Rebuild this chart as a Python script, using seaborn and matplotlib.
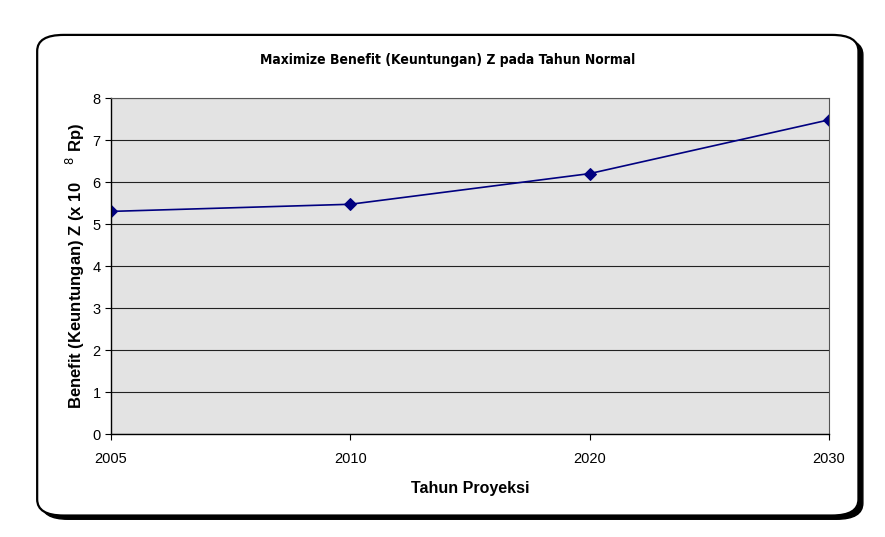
import numpy as np
import pandas as pd
import matplotlib
matplotlib.use("Agg")
import matplotlib.pyplot as plt
import seaborn as sns
from matplotlib.patches import FancyBboxPatch
from matplotlib import font_manager

# data
tahun = ["2005", "2010", "2020", "2030"]
benefit = [5.30, 5.47, 6.20, 7.48]
y_ticks = list(range(0, 9))

sns.set_theme(style="white")
plt.rcParams["font.family"] = ["Liberation Sans", "DejaVu Sans"]
plt.rcParams["text.color"] = "black"
plt.rcParams["axes.labelcolor"] = "black"

# cari font condensed untuk judul
nama_font = {f.name for f in font_manager.fontManager.ttflist}
judul_font = "Liberation Sans Narrow" if "Liberation Sans Narrow" in nama_font else "DejaVu Sans"

df = pd.DataFrame({"tahun": tahun, "benefit": benefit})

fig = plt.figure(figsize=(8.85, 5.37), dpi=100)
fig.patch.set_facecolor("white")

# bingkai membulat + bayangan
shadow = FancyBboxPatch((0.047, 0.033), 0.928, 0.895, boxstyle="round,pad=0,rounding_size=0.03",
                        transform=fig.transFigure, facecolor="black", edgecolor="black", lw=1, zorder=0)
frame = FancyBboxPatch((0.042, 0.040), 0.928, 0.895, boxstyle="round,pad=0,rounding_size=0.03",
                       transform=fig.transFigure, facecolor="white", edgecolor="black", lw=1.6, zorder=1)
fig.patches.extend([shadow, frame])

ax = fig.add_axes([0.1254, 0.1918, 0.8113, 0.6257])
ax.set_facecolor("#e3e3e3")
ax.set_zorder(2)

sns.lineplot(data=df, x="tahun", y="benefit", ax=ax, color="#000080", lw=1.2,
             marker="D", markersize=6, markeredgecolor="#000080", markerfacecolor="#000080")

ax.set_xlim(0, len(tahun) - 1)
ax.set_ylim(0, 8)
ax.set_yticks(y_ticks)
ax.yaxis.grid(True, color="#222222", lw=0.8)
ax.xaxis.grid(False)
ax.set_axisbelow(True)
for s in ["left", "bottom"]:
    ax.spines[s].set_color("black")
    ax.spines[s].set_linewidth(1)
for s in ["top", "right"]:
    ax.spines[s].set_color("#555555")
    ax.spines[s].set_linewidth(0.8)

ax.tick_params(axis="both", direction="out", length=4, width=0.8, color="black",
               labelsize=10.5, colors="black", bottom=True, left=True)
ax.tick_params(axis="x", pad=9)

ax.set_xlabel("Tahun Proyeksi", fontsize=11.5, fontweight="bold", labelpad=11)
ax.set_ylabel("Benefit (Keuntungan) Z (x 10    $^{8}$ Rp)", fontsize=12, fontweight="bold", labelpad=4)

fig.text(0.506, 0.888, "Maximize Benefit (Keuntungan) Z pada Tahun Normal",
         ha="center", va="center", fontsize=10, fontweight="bold", fontstretch="condensed",
         family=[judul_font, "DejaVu Sans"], color="black", zorder=3)

fig.savefig("out.png", dpi=100)
